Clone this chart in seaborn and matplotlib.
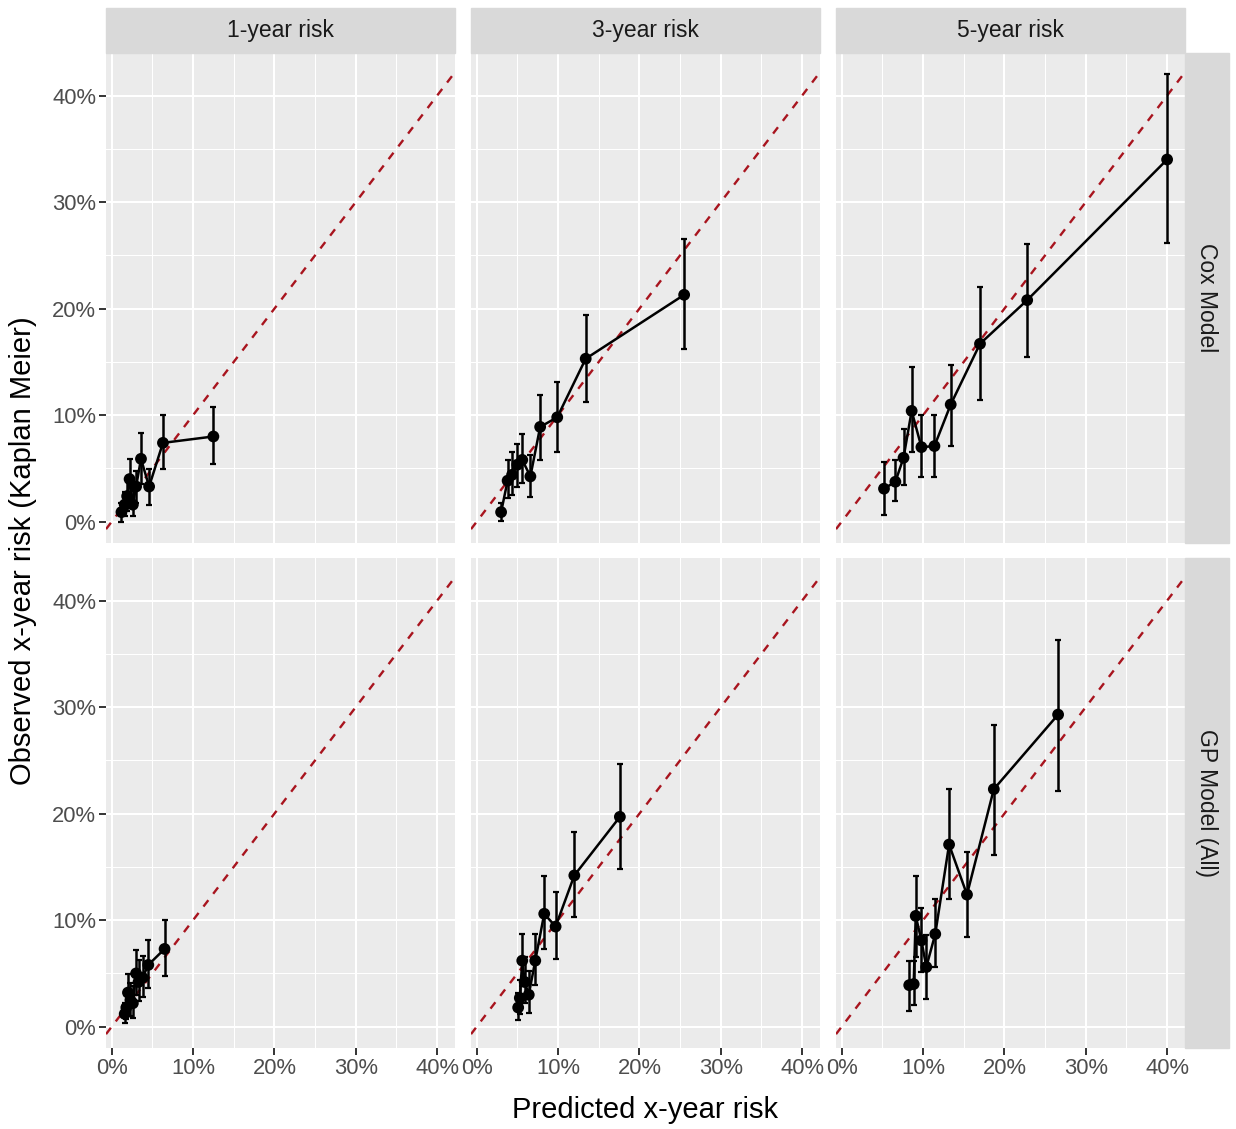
import numpy as np
import pandas as pd
import seaborn as sns
import matplotlib
matplotlib.use("Agg")
import matplotlib.pyplot as plt
from matplotlib.patches import Rectangle
from matplotlib.ticker import FixedLocator

# ---- data (percent) ----
horizons = ["1-year risk", "3-year risk", "5-year risk"]
models = ["Cox Model", "GP Model (All)"]

cox_1y_pred = [1.2, 1.6, 1.9, 2.2, 2.6, 3.0, 3.6, 4.6, 6.3, 12.5]
cox_1y_obs = [0.9, 1.6, 2.4, 4.0, 1.6, 3.3, 5.9, 3.3, 7.4, 8.0]
cox_1y_lo = [0.0, 0.5, 1.0, 2.2, 0.5, 1.8, 3.5, 1.6, 4.9, 5.4]
cox_1y_hi = [1.8, 2.8, 4.0, 5.9, 2.9, 4.8, 8.3, 4.9, 10.0, 10.8]

cox_3y_pred = [3.0, 3.8, 4.35, 5.0, 5.6, 6.6, 7.8, 9.9, 13.4, 25.5]
cox_3y_obs = [0.9, 3.85, 4.4, 5.35, 5.8, 4.25, 8.9, 9.8, 15.3, 21.3]
cox_3y_lo = [0.1, 2.2, 2.5, 3.3, 3.6, 2.3, 5.8, 6.5, 11.2, 16.2]
cox_3y_hi = [1.8, 5.8, 6.5, 7.3, 8.2, 6.3, 11.9, 13.1, 19.4, 26.5]

cox_5y_pred = [5.2, 6.6, 7.6, 8.6, 9.8, 11.4, 13.4, 17.0, 22.8, 40.0]
cox_5y_obs = [3.1, 3.75, 6.0, 10.4, 7.0, 7.1, 11.0, 16.7, 20.8, 34.0]
cox_5y_lo = [0.6, 1.9, 3.4, 6.5, 4.2, 4.2, 7.1, 11.4, 15.5, 26.2]
cox_5y_hi = [5.6, 5.8, 8.7, 14.5, 10.0, 10.0, 14.7, 22.0, 26.1, 42.0]

gp_1y_pred = [1.6, 1.8, 2.0, 2.3, 2.6, 3.0, 3.3, 3.8, 4.5, 6.5]
gp_1y_obs = [1.2, 1.8, 3.2, 2.5, 2.2, 5.0, 4.2, 4.6, 5.8, 7.3]
gp_1y_lo = [0.3, 0.7, 1.6, 1.0, 0.8, 3.0, 2.4, 2.8, 3.6, 4.8]
gp_1y_hi = [2.2, 3.0, 4.9, 4.1, 3.8, 7.2, 6.3, 6.6, 8.1, 10.0]

gp_3y_pred = [5.1, 5.3, 5.6, 5.9, 6.4, 7.2, 8.3, 9.7, 12.0, 17.6]
gp_3y_obs = [1.8, 2.7, 6.2, 4.2, 3.0, 6.2, 10.6, 9.4, 14.2, 19.7]
gp_3y_lo = [0.6, 1.2, 3.8, 2.2, 1.3, 3.9, 7.3, 6.4, 10.3, 14.8]
gp_3y_hi = [3.2, 4.4, 8.7, 6.5, 5.2, 8.7, 14.1, 12.6, 18.3, 24.7]

gp_5y_pred = [8.3, 8.85, 9.1, 9.8, 10.4, 11.5, 13.2, 15.4, 18.7, 26.6]
gp_5y_obs = [3.9, 4.0, 10.4, 8.1, 5.6, 8.7, 17.1, 12.4, 22.3, 29.3]
gp_5y_lo = [1.5, 2.0, 6.5, 5.1, 2.6, 5.6, 12.0, 8.4, 16.1, 22.1]
gp_5y_hi = [6.2, 6.2, 14.1, 11.1, 8.6, 12.0, 22.3, 16.4, 28.3, 36.3]

tick_vals = [0, 10, 20, 30, 40]
tick_labels = [f"{v}%" for v in tick_vals]

# build long table
panels = {
    ("Cox Model", "1-year risk"): (cox_1y_pred, cox_1y_obs, cox_1y_lo, cox_1y_hi),
    ("Cox Model", "3-year risk"): (cox_3y_pred, cox_3y_obs, cox_3y_lo, cox_3y_hi),
    ("Cox Model", "5-year risk"): (cox_5y_pred, cox_5y_obs, cox_5y_lo, cox_5y_hi),
    ("GP Model (All)", "1-year risk"): (gp_1y_pred, gp_1y_obs, gp_1y_lo, gp_1y_hi),
    ("GP Model (All)", "3-year risk"): (gp_3y_pred, gp_3y_obs, gp_3y_lo, gp_3y_hi),
    ("GP Model (All)", "5-year risk"): (gp_5y_pred, gp_5y_obs, gp_5y_lo, gp_5y_hi),
}
frames = []
for (m, h), (p, o, lo, hi) in panels.items():
    frames.append(pd.DataFrame({"model": m, "horizon": h, "pred": p,
                                "obs": o, "lo": lo, "hi": hi}))
df = pd.concat(frames, ignore_index=True)

FONT = "Liberation Sans"
plt.rcParams["font.family"] = [FONT, "DejaVu Sans"]

W, H = 1236, 1129
g = sns.FacetGrid(df, row="model", col="horizon", row_order=models,
                  col_order=horizons, sharex=True, sharey=True,
                  height=4.9, aspect=349 / 490, despine=False)
g.figure.set_size_inches(W / 100, H / 100)
g.figure.set_dpi(100)


def draw_panel(data, **kws):
    ax = plt.gca()
    ax.axline((0, 0), slope=1, color="#A8141E", lw=1.7, ls=(0, (3.4, 3.4)), zorder=2)
    ax.errorbar(data["pred"], data["obs"],
                yerr=[data["obs"] - data["lo"], data["hi"] - data["obs"]],
                fmt="none", ecolor="black", elinewidth=1.8, capsize=2,
                capthick=1.6, zorder=3)
    sns.lineplot(data=data, x="pred", y="obs", color="black", lw=1.8,
                 estimator=None, sort=True, ax=ax, zorder=4)
    sns.scatterplot(data=data, x="pred", y="obs", color="black", s=72,
                    edgecolor="none", ax=ax, zorder=5)


g.map_dataframe(draw_panel)
g.set_titles("")
g.set_axis_labels("", "")

fig = g.figure
fig.subplots_adjust(left=106 / W, right=1185 / W, top=1 - 53 / H,
                    bottom=1 - 1048 / H, wspace=16 / 349, hspace=15 / 490)

for i in range(2):
    for j in range(3):
        ax = g.axes[i, j]
        ax.set_facecolor("#EBEBEB")
        for s in ax.spines.values():
            s.set_visible(False)
        ax.set_xlim(-0.7, 42.2)
        ax.set_ylim(-2.0, 44.0)
        ax.xaxis.set_major_locator(FixedLocator(tick_vals))
        ax.yaxis.set_major_locator(FixedLocator(tick_vals))
        ax.xaxis.set_minor_locator(FixedLocator([5, 15, 25, 35]))
        ax.yaxis.set_minor_locator(FixedLocator([5, 15, 25, 35]))
        ax.grid(which="major", color="white", lw=1.5, zorder=0)
        ax.grid(which="minor", color="white", lw=0.75, zorder=0)
        ax.set_axisbelow(True)
        ax.tick_params(which="major", length=5, width=1.4, color="#333333",
                       labelsize=15.8, labelcolor="#4D4D4D", pad=2)
        ax.tick_params(which="minor", length=0)
        ax.tick_params(axis="x", bottom=(i == 1), labelbottom=(i == 1))
        ax.tick_params(axis="y", left=(j == 0), labelleft=(j == 0))
        ax.set_xticklabels(tick_labels)
        ax.set_yticklabels(tick_labels)
        ax.set_xlabel("")
        ax.set_ylabel("")

# strips
strip_col = "#D9D9D9"
for j, h in enumerate(horizons):
    pos = g.axes[0, j].get_position()
    sh = 45 / H
    fig.patches.append(Rectangle((pos.x0, pos.y1), pos.width, sh,
                                 transform=fig.transFigure, color=strip_col,
                                 zorder=1))
    fig.text(pos.x0 + pos.width / 2, pos.y1 + sh / 2, h, ha="center",
             va="center", fontsize=16.5, color="#1A1A1A")
for i, m in enumerate(models):
    pos = g.axes[i, 2].get_position()
    sw = 44 / W
    fig.patches.append(Rectangle((pos.x1, pos.y0), sw, pos.height,
                                 transform=fig.transFigure, color=strip_col,
                                 zorder=1))
    fig.text(pos.x1 + sw / 2, pos.y0 + pos.height / 2, m, ha="center",
             va="center", rotation=-90, fontsize=16.5, color="#1A1A1A")

fig.text((106 + 1185) / 2 / W, 1 - 1110 / H, "Predicted x-year risk",
         ha="center", va="center", fontsize=21, color="black")
fig.text(23 / W, 1 - ((53 + 1048) / 2) / H, "Observed x-year risk (Kaplan Meier)",
         ha="center", va="center", rotation=90, fontsize=21, color="black")

fig.savefig("out.png", dpi=100, facecolor="white")
